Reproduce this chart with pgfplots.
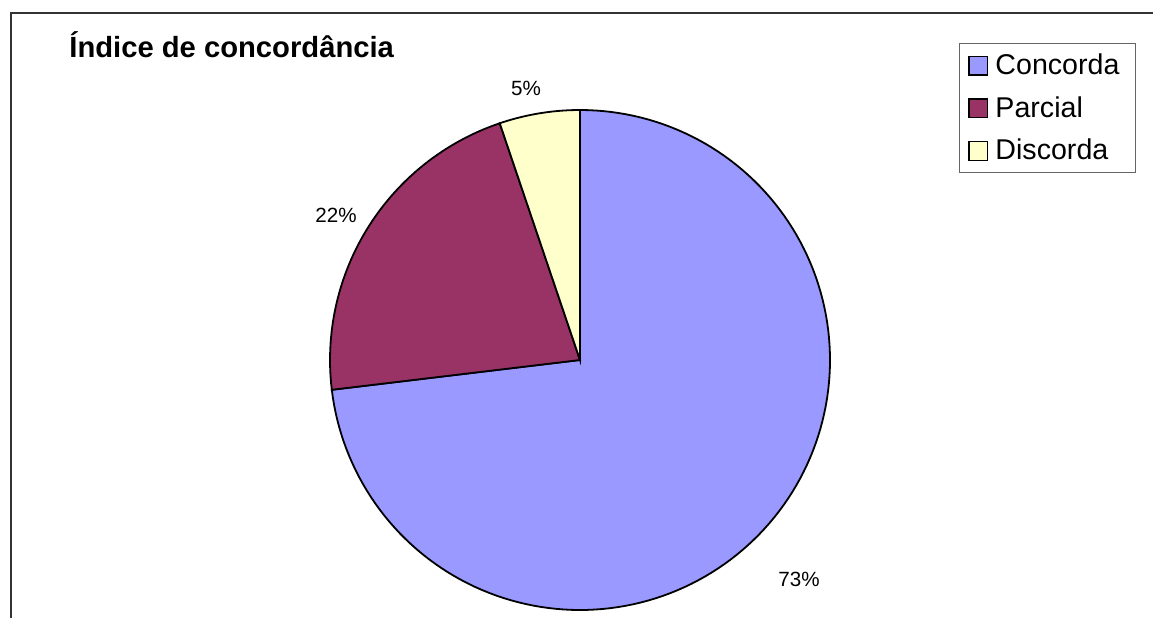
\documentclass[border=0pt]{standalone}
\usepackage{pgfplots}
\usepackage{pgfplotstable}
\pgfplotsset{compat=1.18}
\usepackage{fontspec}
\setmainfont{Liberation Sans}
\definecolor{cConc}{HTML}{9999FF}
\definecolor{cParc}{HTML}{993366}
\definecolor{cDisc}{HTML}{FFFFCC}
\pgfplotstableread{
label value
Concorda 73.1
Parcial 21.7
Discorda 5.2
}\piedata
\pgfplotstablegetelem{0}{value}\of\piedata \let\vA\pgfplotsretval
\pgfplotstablegetelem{1}{value}\of\piedata \let\vB\pgfplotsretval
\pgfplotstablegetelem{2}{value}\of\piedata \let\vC\pgfplotsretval
\pgfmathsetmacro\tot{\vA+\vB+\vC}
\pgfmathsetmacro\aA{90-360*(\vA/\tot)}
\pgfmathsetmacro\aB{\aA-360*(\vB/\tot)}
\pgfmathsetmacro\aC{\aB-360*(\vC/\tot)}
\def\cx{580}
\def\cy{258}
\def\rr{250}
\begin{document}
\begin{tikzpicture}
\useasboundingbox (0,0) rectangle (577pt,309pt);
\begin{axis}[
  at={(0,0)}, anchor=south west,
  scale only axis, width=577pt, height=309pt,
  xmin=0, xmax=1154, ymin=0, ymax=618,
  hide axis, clip=false,
  legend style={at={(rel axis cs:0.831,0.930)}, anchor=north west,
    draw=black!60, line width=0.5pt,
    font=\fontsize{14.3}{16}\selectfont,
    row sep=7.5pt, inner xsep=4.5pt, inner ysep=4pt,
    nodes={inner xsep=3.5pt, inner ysep=1pt}},
  legend cell align=left,
  legend image code/.code={\draw[#1, line width=0.6pt] (0pt,-4.7pt) rectangle (9.4pt,4.7pt);},
]
\addplot[fill=cConc, draw=black, line width=0.9pt, domain=\aA:90, samples=150, variable=\t]
  ({\cx+\rr*cos(\t)}, {\cy+\rr*sin(\t)}) -- (axis cs:\cx,\cy) -- cycle;
\addlegendentry{Concorda}
\addplot[fill=cParc, draw=black, line width=0.9pt, domain=\aB:\aA, samples=60, variable=\t]
  ({\cx+\rr*cos(\t)}, {\cy+\rr*sin(\t)}) -- (axis cs:\cx,\cy) -- cycle;
\addlegendentry{Parcial}
\addplot[fill=cDisc, draw=black, line width=0.9pt, domain=\aC:\aB, samples=20, variable=\t]
  ({\cx+\rr*cos(\t)}, {\cy+\rr*sin(\t)}) -- (axis cs:\cx,\cy) -- cycle;
\addlegendentry{Discorda}
\draw[black!80, line width=0.8pt] (axis cs:11,0) -- (axis cs:11,605) -- (axis cs:1153,605);
\node[anchor=base west, inner sep=0pt, font=\fontsize{14.6}{17}\selectfont\bfseries] at (axis cs:69,561) {Índice de concordância};
\node[font=\fontsize{10.3}{12}\selectfont] at (axis cs:526,530) {5\%};
\node[font=\fontsize{10.3}{12}\selectfont] at (axis cs:336,403) {22\%};
\node[font=\fontsize{10.3}{12}\selectfont] at (axis cs:799,39) {73\%};
\end{axis}
\end{tikzpicture}
\end{document}
